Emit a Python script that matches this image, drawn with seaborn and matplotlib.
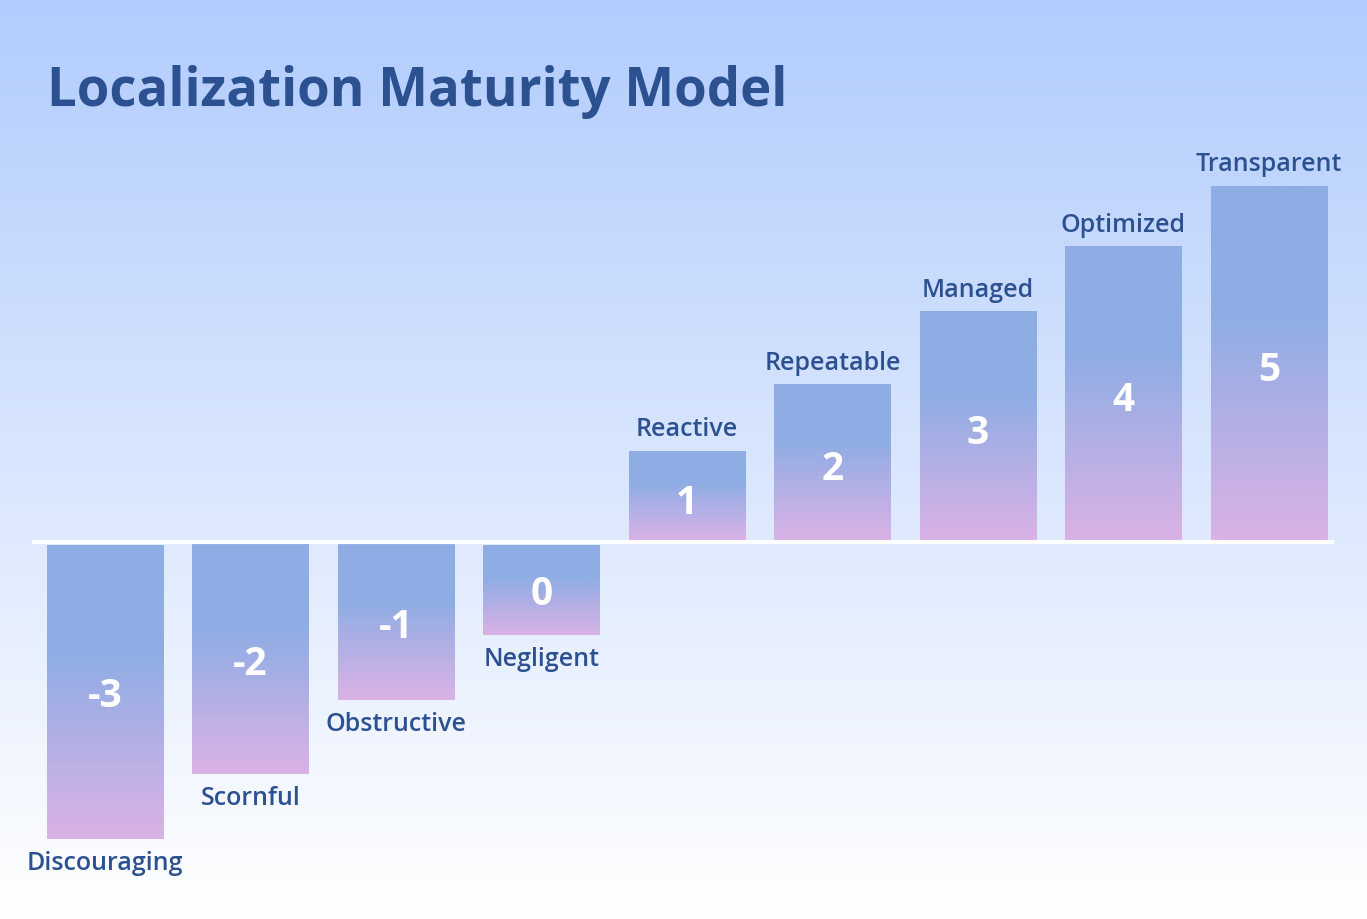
import numpy as np
import pandas as pd
import matplotlib
matplotlib.use("Agg")
import matplotlib.pyplot as plt
from matplotlib.colors import to_rgb
import seaborn as sns

# ---- data ----
categories = ["Discouraging", "Scornful", "Obstructive", "Negligent", "Reactive",
              "Repeatable", "Managed", "Optimized", "Transparent"]
levels = ["-3", "-2", "-1", "0", "1", "2", "3", "4", "5"]
heights = [-3.26, -2.55, -1.74, -1.02, 1.0, 1.73, 2.53, 3.25, 3.91]
title = "Localization Maturity Model"

# ---- style ----
sns.set_theme(style="white")
plt.rcParams["font.family"] = ["Open Sans", "DejaVu Sans"]

W, H = 1367, 920
fig = plt.figure(figsize=(W / 100, H / 100), dpi=100)

# background gradient
bg = fig.add_axes([0, 0, 1, 1], zorder=-10)
top_c = np.array(to_rgb("#b2ccfd"))
bot_c = np.array(to_rgb("#ffffff"))
t = np.linspace(0, 1, 400)[:, None, None]
grad = top_c[None, None, :] * (1 - t) + bot_c[None, None, :] * t
bg.imshow(grad, aspect="auto", extent=[0, 1, 0, 1], origin="upper")
bg.set_axis_off()

# main axes
left, right = 32.25, 1341.75
top_px, bot_px = 150, 900
ax = fig.add_axes([left / W, (H - bot_px) / H, (right - left) / W, (bot_px - top_px) / H])
ax.patch.set_alpha(0)

df = pd.DataFrame({"category": categories, "value": heights})
sns.barplot(data=df, x="category", y="value", order=categories, color="#8fade4",
            width=0.8, ax=ax, saturation=1)

unit = 91.0
ax.set_xlim(-0.5, 8.5)
ax.set_ylim(-(bot_px - 543) / unit, (543 - top_px) / unit)

# bar gradient: solid blue top ~36%, then blue -> pink
blue = np.array(to_rgb("#8eade4"))
pink = np.array(to_rgb("#dab2e6"))
n = 300
rows = []
for i in range(n):
    f = i / (n - 1)
    if f < 0.36:
        c = blue
    else:
        s = (f - 0.36) / 0.64
        c = blue * (1 - s) + pink * s
    rows.append(c)
bar_grad = np.array(rows)[:, None, :]

for p in ax.patches:
    x0, y0 = p.get_x(), p.get_y()
    w, h = p.get_width(), p.get_height()
    ylo, yhi = min(y0, y0 + h), max(y0, y0 + h)
    if h < 0:
        ylo_adj = ylo
        yhi_adj = yhi - 3 / unit
    else:
        ylo_adj = ylo + 2 / unit
        yhi_adj = yhi
    p.set_facecolor("none")
    p.set_edgecolor("none")
    ax.imshow(bar_grad, aspect="auto", extent=[x0, x0 + w, ylo_adj, yhi_adj],
              origin="upper", zorder=2, interpolation="bilinear")

# baseline
ax.plot([-0.5, 8.45], [0, 0], color="white", lw=3, zorder=3, solid_capstyle="butt")

text_color = "#2c5191"
for i, (cat, lev, v) in enumerate(zip(categories, levels, heights)):
    ax.annotate(lev, (i, v / 2), xytext=(0, -4), textcoords="offset points",
                ha="center", va="center", color="white", fontsize=28,
                fontweight="bold", zorder=4)
    if v > 0:
        ax.annotate(cat, (i, v), xytext=(0, 16), textcoords="offset points",
                    ha="center", va="center", color=text_color, fontsize=18,
                    fontweight="semibold", zorder=4)
    else:
        ax.annotate(cat, (i, v), xytext=(0, -17), textcoords="offset points",
                    ha="center", va="center", color=text_color, fontsize=18,
                    fontweight="semibold", zorder=4)

ax.set_axis_off()

fig.text(47 / W, 1 - 92 / H, title, ha="left", va="center", color=text_color,
         fontsize=38, fontweight="bold")

fig.savefig("out.png", dpi=100)
